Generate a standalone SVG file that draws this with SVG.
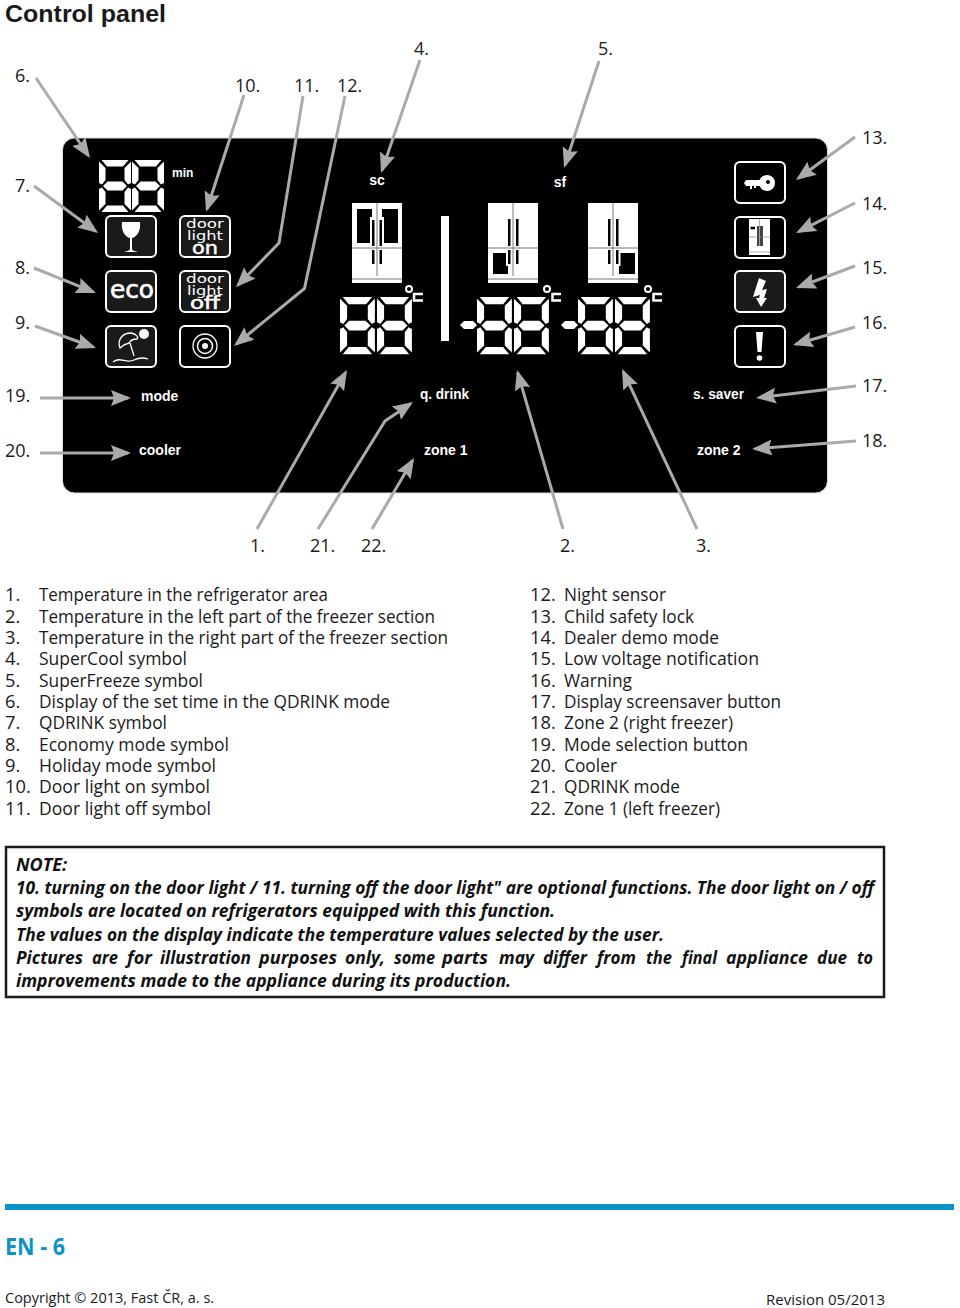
<svg xmlns="http://www.w3.org/2000/svg" width="960" height="1308" viewBox="0 0 960 1308">
<style>
text{font-family:"Open Sans","Noto Sans","Liberation Sans",sans-serif;fill:#1a1a1a}
.n{font-size:18px}
.l{font-size:18.300px}
.p{font-family:"Liberation Sans",sans-serif;font-weight:700;font-size:14px;fill:#fff}
.nt{font-size:18px;font-weight:700;font-style:italic;fill:#111}
.ib{fill:#1a1a1a;stroke:#fff;stroke-width:2}
.ib0{fill:#000;stroke:#fff;stroke-width:2}
.c{fill:none;stroke:#aaa;stroke-width:3;stroke-linejoin:round}
.g{fill:#fff}
.w{fill:none;stroke:#fff;stroke-width:2}
.dl{font-family:"DejaVu Sans",sans-serif;fill:#fff}
</style>
<defs>
<marker id="a" viewBox="0 0 20 16" refX="17" refY="8" markerWidth="20" markerHeight="16" markerUnits="userSpaceOnUse" orient="auto"><path d="M0 0L20 8L0 16L3 8Z" fill="#aaa"/></marker>
<g id="d"><path class="g" d="M2.500 0H29.500L24 6.500H8ZM0 1.500L6.500 8V20L3 24.500L0 23ZM32 1.500L25.500 8V20L29 24.500L32 23ZM4 26L8.500 21.500H23.500L28 26L23.500 30.500H8.500ZM0 29L3 27.500L6.500 32V44L0 50.500ZM32 29L29 27.500L25.500 32V44L32 50.500ZM8 45.500H24L29.500 52H2.500Z"/></g>
<g id="f"><rect class="g" width="50" height="80"/><path d="M25 0V73M0 45H50M0 76H50" stroke="#777" stroke-width="1" fill="none"/></g>
</defs>
<rect width="960" height="1308" fill="#fff"/>
<text x="5" y="22" style="font-family:'Liberation Sans',sans-serif;font-size:24px;font-weight:700" id="title" textLength="161" lengthAdjust="spacingAndGlyphs">Control panel</text>

<g id="panel">
<rect x="62.500" y="138" width="765" height="355" rx="12" fill="#000" stroke="#ddd" stroke-width="1"/>
</g>

<g id="display-6"><use href="#d" x="99" y="160"/><use href="#d" x="132" y="160"/><text class="p" x="172" y="177" style="font-size:12px">min</text></g>

<g id="icon-7"><rect class="ib" x="106" y="216" width="50" height="41" rx="5"/><path class="g" d="M122 222H140C141 231 137 237 132 238V249C132 251 136 251 138 252H124C126 251 130 251 130 249V238C125 237 121 231 122 222Z"/></g>
<g id="icon-8"><rect class="ib" x="106" y="271" width="50" height="41" rx="5"/><text class="dl" x="110" y="298" style="font-size:25px;stroke:#fff;stroke-width:.7" textLength="44" lengthAdjust="spacingAndGlyphs">eco</text></g>
<g id="icon-9"><rect class="ib" x="106" y="326" width="50" height="41" rx="5"/><circle class="g" cx="144" cy="334" r="5"/><path class="w" style="stroke-width:1.300" d="M120 348C117 340 122 333 131 333C136 334 139 337 137 339C133 339 130 341 129 343C125 344 122 346 120 348ZM130 343L134 356M113 362C120 356 126 364 134 360C140 357 145 358 148 359"/></g>
<g id="icon-10"><rect class="ib" x="180" y="216" width="50" height="41" rx="5"/><text class="dl" style="font-size:12px"><tspan x="186" y="228" textLength="38" lengthAdjust="spacingAndGlyphs">door</tspan><tspan x="187" y="240" textLength="36" lengthAdjust="spacingAndGlyphs">light</tspan><tspan x="192" y="254" style="font-size:18px;stroke:#fff;stroke-width:.5" textLength="26" lengthAdjust="spacingAndGlyphs">on</tspan></text></g>
<g id="icon-11"><rect class="ib" x="180" y="271" width="50" height="41" rx="5"/><text class="dl" style="font-size:12px"><tspan x="186" y="283" textLength="38" lengthAdjust="spacingAndGlyphs">door</tspan><tspan x="187" y="295" textLength="36" lengthAdjust="spacingAndGlyphs">light</tspan><tspan x="190" y="309" style="font-size:18px;stroke:#fff;stroke-width:.5" textLength="30" lengthAdjust="spacingAndGlyphs">off</tspan></text></g>
<g id="icon-12"><rect class="ib0" x="180" y="326" width="50" height="41" rx="5"/><circle class="w" style="stroke-width:1.300" cx="205" cy="346" r="12"/><circle class="w" style="stroke-width:1.500" cx="205" cy="346" r="7.500"/><circle class="g" cx="205" cy="346" r="3"/></g>

<g id="label-sc"><text class="p" x="377" y="185" text-anchor="middle">sc</text></g>
<g id="label-sf"><text class="p" x="560" y="187" text-anchor="middle">sf</text></g>

<g id="fridge-1"><use href="#f" x="352" y="203"/><path d="M357 209H372V243H357ZM382 209H398V243H382Z" fill="#000"/><path class="g" d="M370 217H376V247H370ZM378 217H384V247H378Z"/><path d="M372 220H374.500V246H372ZM379.500 220H382V246H379.500ZM372 250H374.500V264H372ZM379.500 250H382V264H379.500Z" fill="#000"/></g>
<rect id="divider" class="g" x="441" y="216" width="8" height="125"/>
<g id="fridge-2"><use href="#f" x="488" y="203"/><path d="M493 253H508V274H493Z" fill="#000"/><path class="g" d="M506 250H512V266H506Z"/><path d="M508 219H510.500V246H508ZM516 219H518.500V246H516ZM508 250H510.500V264H508ZM516 250H518.500V264H516Z" fill="#000"/></g>
<g id="fridge-3"><use href="#f" x="588" y="203"/><path d="M619 253H635V274H619Z" fill="#000"/><path class="g" d="M614 250H620.500V266H614Z"/><path d="M608 219H610.500V246H608ZM616 219H618.500V246H616ZM608 250H610.500V264H608ZM616 250H618.500V264H616Z" fill="#000"/></g>

<g id="temp-1"><use href="#d" transform="translate(340 297) scale(1.090 1.100)"/><use href="#d" transform="translate(377 297) scale(1.090 1.100)"/><circle class="w" cx="409" cy="289" r="3"/><path class="w" style="stroke-width:2.500" d="M423 294H414V300.500H423"/></g>
<g id="temp-2"><path class="g" d="M460 325L464 321H473L477 325L473 329H464Z"/><use href="#d" transform="translate(477 297) scale(1.090 1.100)"/><use href="#d" transform="translate(514 297) scale(1.090 1.100)"/><circle class="w" cx="547" cy="289" r="3"/><path class="w" style="stroke-width:2.500" d="M561 294H552.500V300.500H561"/></g>
<g id="temp-3"><path class="g" d="M561 325L565 321H574L578 325L574 329H565Z"/><use href="#d" transform="translate(578 297) scale(1.090 1.100)"/><use href="#d" transform="translate(615 297) scale(1.090 1.100)"/><circle class="w" cx="648" cy="289" r="3"/><path class="w" style="stroke-width:2.500" d="M662 294H653.500V300.500H662"/></g>

<g id="icon-13"><rect class="ib0" x="735" y="162" width="50" height="41" rx="5"/><path class="g" d="M746 180H760V186H756V188H754V186H752V189H750V186H746L744 183Z"/><circle class="g" cx="767" cy="183" r="8"/><circle cx="768" cy="182" r="2" fill="#000"/></g>
<g id="icon-14"><rect class="ib0" x="735" y="217" width="50" height="41" rx="5"/><rect class="g" x="749" y="219" width="21" height="36"/><path d="M750.500 228H755" stroke="#000" stroke-width="2.500"/><path d="M757 226H759.500V246H757ZM760 226H763V246H760Z" fill="#444"/><path d="M749 237H770M749 252H770M759.500 219V226" stroke="#888" stroke-width=".7"/></g>
<g id="icon-15"><rect class="ib" x="735" y="271" width="50" height="41" rx="5"/><path class="g" d="M759 278L766 281L762 290L767 289L764 298L767 298L761 307L756 298L759 298L760 295L753 297Z"/></g>
<g id="icon-16"><rect class="ib0" x="735" y="326" width="50" height="41" rx="5"/><path class="g" d="M756 332H763L761.500 352H757.500Z"/><circle class="g" cx="759.500" cy="358" r="2.800"/></g>

<g id="label-mode"><text class="p" x="141" y="401">mode</text></g>
<g id="label-qdrink"><text class="p" x="420" y="399" textLength="49" lengthAdjust="spacingAndGlyphs">q. drink</text></g>
<g id="label-ssaver"><text class="p" x="693" y="399" textLength="51" lengthAdjust="spacingAndGlyphs">s. saver</text></g>
<g id="label-cooler"><text class="p" x="139" y="455">cooler</text></g>
<g id="label-zone1"><text class="p" x="424" y="455">zone 1</text></g>
<g id="label-zone2"><text class="p" x="697" y="455">zone 2</text></g>

<g id="connectors">
<path class="c" marker-end="url(#a)" d="M36 78L88.300 155.500"/>
<path class="c" marker-end="url(#a)" d="M34 186L95.600 231.200"/>
<path class="c" marker-end="url(#a)" d="M34 268L93.200 291.900"/>
<path class="c" marker-end="url(#a)" d="M35 326L93.200 347"/>
<path class="c" marker-end="url(#a)" d="M40 398L128 398"/>
<path class="c" marker-end="url(#a)" d="M40 453L128 453"/>
<path class="c" marker-end="url(#a)" d="M244 95L207 209"/>
<path class="c" marker-end="url(#a)" d="M303 96L279 243L238 285"/>
<path class="c" marker-end="url(#a)" d="M345 96L304.500 288.500L236.300 344.100"/>
<path class="c" marker-end="url(#a)" d="M420 60L382 170.200"/>
<path class="c" marker-end="url(#a)" d="M599 61L565 165"/>
<path class="c" marker-end="url(#a)" d="M855 137L798.400 178.200"/>
<path class="c" marker-end="url(#a)" d="M855 203L798.700 231.600"/>
<path class="c" marker-end="url(#a)" d="M855 266L798.800 287"/>
<path class="c" marker-end="url(#a)" d="M855 327L795.900 344.200"/>
<path class="c" marker-end="url(#a)" d="M856 386L759 397.600"/>
<path class="c" marker-end="url(#a)" d="M856 441L755 448.800"/>
<path class="c" marker-end="url(#a)" d="M257 529L345.500 372.600"/>
<path class="c" marker-end="url(#a)" d="M318 529L385 421L410.500 403.700"/>
<path class="c" marker-end="url(#a)" d="M372 529L412.500 460.600"/>
<path class="c" marker-end="url(#a)" d="M563 529L517.800 372.900"/>
<path class="c" marker-end="url(#a)" d="M697 529L623.300 371.700"/>
</g>

<g id="callouts">
<text class="n" x="15" y="82">6.</text><text class="n" x="15" y="192">7.</text><text class="n" x="15" y="274">8.</text><text class="n" x="15" y="329">9.</text><text class="n" x="5" y="402">19.</text><text class="n" x="5" y="457">20.</text>
<text class="n" x="235" y="92">10.</text><text class="n" x="294" y="92">11.</text><text class="n" x="337" y="92">12.</text><text class="n" x="414" y="55">4.</text><text class="n" x="598" y="55">5.</text>
<text class="n" x="862" y="144">13.</text><text class="n" x="862" y="210">14.</text><text class="n" x="862" y="274">15.</text><text class="n" x="862" y="329">16.</text><text class="n" x="862" y="392">17.</text><text class="n" x="862" y="447">18.</text>
<text class="n" x="250" y="552">1.</text><text class="n" x="310" y="552">21.</text><text class="n" x="361" y="552">22.</text><text class="n" x="560" y="552">2.</text><text class="n" x="696" y="552">3.</text>
</g>

<g id="legend-left">
<text class="l" x="5" y="601">1.</text><text class="l" x="39" y="601" textLength="289" lengthAdjust="spacingAndGlyphs">Temperature in the refrigerator area</text>
<text class="l" x="5" y="623">2.</text><text class="l" x="39" y="623" textLength="396" lengthAdjust="spacingAndGlyphs">Temperature in the left part of the freezer section</text>
<text class="l" x="5" y="644">3.</text><text class="l" x="39" y="644" textLength="409" lengthAdjust="spacingAndGlyphs">Temperature in the right part of the freezer section</text>
<text class="l" x="5" y="665">4.</text><text class="l" x="39" y="665" textLength="148" lengthAdjust="spacingAndGlyphs">SuperCool symbol</text>
<text class="l" x="5" y="687">5.</text><text class="l" x="39" y="687" textLength="164" lengthAdjust="spacingAndGlyphs">SuperFreeze symbol</text>
<text class="l" x="5" y="708">6.</text><text class="l" x="39" y="708" textLength="351" lengthAdjust="spacingAndGlyphs">Display of the set time in the QDRINK mode</text>
<text class="l" x="5" y="729">7.</text><text class="l" x="39" y="729" textLength="128" lengthAdjust="spacingAndGlyphs">QDRINK symbol</text>
<text class="l" x="5" y="751">8.</text><text class="l" x="39" y="751" textLength="190" lengthAdjust="spacingAndGlyphs">Economy mode symbol</text>
<text class="l" x="5" y="772">9.</text><text class="l" x="39" y="772" textLength="177" lengthAdjust="spacingAndGlyphs">Holiday mode symbol</text>
<text class="l" x="5" y="793">10.</text><text class="l" x="39" y="793" textLength="171" lengthAdjust="spacingAndGlyphs">Door light on symbol</text>
<text class="l" x="5" y="815">11.</text><text class="l" x="39" y="815" textLength="172" lengthAdjust="spacingAndGlyphs">Door light off symbol</text>
</g>
<g id="legend-right">
<text class="l" x="530" y="601">12.</text><text class="l" x="564" y="601" textLength="102" lengthAdjust="spacingAndGlyphs">Night sensor</text>
<text class="l" x="530" y="623">13.</text><text class="l" x="564" y="623" textLength="130" lengthAdjust="spacingAndGlyphs">Child safety lock</text>
<text class="l" x="530" y="644">14.</text><text class="l" x="564" y="644" textLength="155" lengthAdjust="spacingAndGlyphs">Dealer demo mode</text>
<text class="l" x="530" y="665">15.</text><text class="l" x="564" y="665" textLength="195" lengthAdjust="spacingAndGlyphs">Low voltage notification</text>
<text class="l" x="530" y="687">16.</text><text class="l" x="564" y="687" textLength="68" lengthAdjust="spacingAndGlyphs">Warning</text>
<text class="l" x="530" y="708">17.</text><text class="l" x="564" y="708" textLength="217" lengthAdjust="spacingAndGlyphs">Display screensaver button</text>
<text class="l" x="530" y="729">18.</text><text class="l" x="564" y="729" textLength="169" lengthAdjust="spacingAndGlyphs">Zone 2 (right freezer)</text>
<text class="l" x="530" y="751">19.</text><text class="l" x="564" y="751" textLength="184" lengthAdjust="spacingAndGlyphs">Mode selection button</text>
<text class="l" x="530" y="772">20.</text><text class="l" x="564" y="772" textLength="53" lengthAdjust="spacingAndGlyphs">Cooler</text>
<text class="l" x="530" y="793">21.</text><text class="l" x="564" y="793" textLength="116" lengthAdjust="spacingAndGlyphs">QDRINK mode</text>
<text class="l" x="530" y="815">22.</text><text class="l" x="564" y="815" textLength="156" lengthAdjust="spacingAndGlyphs">Zone 1 (left freezer)</text>
</g>

<g id="note">
<rect x="6" y="847" width="878" height="150" fill="none" stroke="#1a1a1a" stroke-width="2.500"/>
<text class="nt" x="16" y="871">NOTE:</text>
<text class="nt" x="16" y="894" textLength="858" lengthAdjust="spacingAndGlyphs">10. turning on the door light / 11. turning off the door light" are optional functions. The door light on / off</text>
<text class="nt" x="16" y="917" textLength="539" lengthAdjust="spacingAndGlyphs">symbols are located on refrigerators equipped with this function.</text>
<text class="nt" x="16" y="941" textLength="648" lengthAdjust="spacingAndGlyphs">The values on the display indicate the temperature values selected by the user.</text>
<text class="nt" y="964"><tspan x="16" textLength="67" lengthAdjust="spacingAndGlyphs">Pictures</tspan> <tspan x="92" textLength="26" lengthAdjust="spacingAndGlyphs">are</tspan> <tspan x="127" textLength="25" lengthAdjust="spacingAndGlyphs">for</tspan> <tspan x="160" textLength="91" lengthAdjust="spacingAndGlyphs">illustration</tspan> <tspan x="259" textLength="78" lengthAdjust="spacingAndGlyphs">purposes</tspan> <tspan x="345" textLength="40" lengthAdjust="spacingAndGlyphs">only,</tspan> <tspan x="394" textLength="41" lengthAdjust="spacingAndGlyphs">some</tspan> <tspan x="442" textLength="46" lengthAdjust="spacingAndGlyphs">parts</tspan> <tspan x="499" textLength="35" lengthAdjust="spacingAndGlyphs">may</tspan> <tspan x="543" textLength="44" lengthAdjust="spacingAndGlyphs">differ</tspan> <tspan x="597" textLength="39" lengthAdjust="spacingAndGlyphs">from</tspan> <tspan x="646" textLength="26" lengthAdjust="spacingAndGlyphs">the</tspan> <tspan x="682" textLength="35" lengthAdjust="spacingAndGlyphs">final</tspan> <tspan x="726" textLength="82" lengthAdjust="spacingAndGlyphs">appliance</tspan> <tspan x="817" textLength="30" lengthAdjust="spacingAndGlyphs">due</tspan> <tspan x="857" textLength="16" lengthAdjust="spacingAndGlyphs">to</tspan></text>
<text class="nt" x="16" y="987" textLength="495" lengthAdjust="spacingAndGlyphs">improvements made to the appliance during its production.</text>
</g>

<g id="footer">
<rect x="5" y="1204" width="949" height="6" fill="#0a93c9"/>
<text x="5" y="1255" style="font-size:24px;font-weight:700;fill:#0a93c9" textLength="60" lengthAdjust="spacingAndGlyphs">EN - 6</text>
<text x="5" y="1303" style="font-size:14.500px">Copyright © 2013, Fast ČR, a. s.</text>
<text x="885" y="1305" text-anchor="end" style="font-size:15px">Revision 05/2013</text>
</g>
</svg>
